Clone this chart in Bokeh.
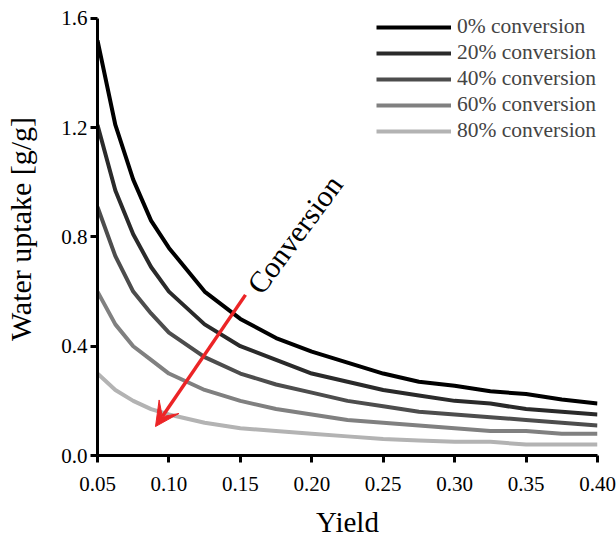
from bokeh.plotting import figure
from bokeh.models import (FixedTicker, PrintfTickFormatter, Legend, LegendItem,
                          Arrow, VeeHead, Label, Range1d)
from bokeh.embed import file_html
from bokeh.resources import INLINE

# ---- data ----
yield_x = [0.05, 0.0625, 0.075, 0.0875, 0.10, 0.125, 0.15, 0.175, 0.20,
           0.225, 0.25, 0.275, 0.30, 0.325, 0.35, 0.375, 0.40]
conv_0 = [1.52, 1.21, 1.01, 0.86, 0.76, 0.60, 0.50, 0.43, 0.38,
          0.34, 0.30, 0.27, 0.255, 0.235, 0.225, 0.205, 0.19]
conv_20 = [1.21, 0.97, 0.81, 0.69, 0.60, 0.48, 0.40, 0.35, 0.30,
           0.27, 0.24, 0.22, 0.20, 0.19, 0.17, 0.16, 0.15]
conv_40 = [0.91, 0.73, 0.60, 0.52, 0.45, 0.36, 0.30, 0.26, 0.23,
           0.20, 0.18, 0.16, 0.15, 0.14, 0.13, 0.12, 0.11]
conv_60 = [0.60, 0.48, 0.40, 0.35, 0.30, 0.24, 0.20, 0.17, 0.15,
           0.13, 0.12, 0.11, 0.10, 0.09, 0.09, 0.08, 0.08]
conv_80 = [0.30, 0.24, 0.20, 0.17, 0.15, 0.12, 0.10, 0.09, 0.08,
           0.07, 0.06, 0.055, 0.05, 0.05, 0.04, 0.04, 0.04]
series_labels = ["0% conversion", "20% conversion", "40% conversion",
                 "60% conversion", "80% conversion"]
series_colors = ["#000000", "#2a2a2a", "#4d4d4d", "#808080", "#b3b3b3"]
x_ticks = [0.05, 0.10, 0.15, 0.20, 0.25, 0.30, 0.35, 0.40]
y_ticks = [0.0, 0.4, 0.8, 1.2, 1.6]
x_title = "Yield"
y_title = "Water uptake [g/g]"
arrow_start = (0.1536, 0.588)
arrow_end = (0.0906, 0.106)
arrow_label = "Conversion"
arrow_label_pos = (0.1592, 0.606)

FONT = "Liberation Serif"

# y range runs a little past 1.6 so the legend sits inside the frame;
# the axis itself is bounded to 0..1.6
p = figure(width=616, height=540, output_backend="svg", toolbar_location=None,
           x_range=Range1d(0.05, 0.40), y_range=Range1d(0.0, 1.6584),
           min_border_left=97, min_border_right=19, min_border_top=2,
           min_border_bottom=84)
p.outline_line_color = None
p.grid.visible = False
p.background_fill_color = "white"
p.border_fill_color = "white"

items = []
for vals, lab, col in zip([conv_0, conv_20, conv_40, conv_60, conv_80],
                          series_labels, series_colors):
    r = p.line(yield_x, vals, line_color=col, line_width=4)
    items.append(LegendItem(label=lab, renderers=[r]))

for ax in (p.xaxis[0], p.yaxis[0]):
    ax.axis_line_width = 3
    ax.axis_line_color = "black"
    ax.major_tick_line_width = 3
    ax.major_tick_out = 7
    ax.major_tick_in = 0
    ax.minor_tick_line_color = None
    ax.major_label_text_font = FONT
    ax.major_label_text_font_size = "21px"
    ax.major_label_text_color = "black"
    ax.axis_label_text_font = FONT
    ax.axis_label_text_font_style = "normal"
    ax.axis_label_text_color = "black"

p.xaxis[0].ticker = FixedTicker(ticks=x_ticks)
p.xaxis[0].formatter = PrintfTickFormatter(format="%.2f")
p.xaxis[0].major_label_standoff = 14
p.xaxis[0].axis_label = x_title
p.xaxis[0].axis_label_text_font_size = "29px"
p.xaxis[0].axis_label_standoff = 12
p.yaxis[0].ticker = FixedTicker(ticks=y_ticks)
p.yaxis[0].bounds = (0.0, 1.6)
p.yaxis[0].formatter = PrintfTickFormatter(format="%.1f")
p.yaxis[0].major_label_standoff = 3
p.yaxis[0].axis_label = y_title
p.yaxis[0].axis_label_text_font_size = "30px"
p.yaxis[0].axis_label_standoff = 21

legend = Legend(items=items, location=(279, 312), border_line_color=None,
                background_fill_alpha=0, padding=0, margin=0,
                glyph_width=75, glyph_height=22, label_height=22,
                label_standoff=6, spacing=1,
                label_text_font=FONT, label_text_font_size="21.5px")
p.add_layout(legend)

p.add_layout(Arrow(end=VeeHead(size=24, fill_color="#ec2426", line_color="#ec2426"),
                   x_start=arrow_start[0], y_start=arrow_start[1],
                   x_end=arrow_end[0], y_end=arrow_end[1],
                   line_color="#ec2426", line_width=3.5))

p.add_layout(Label(x=arrow_label_pos[0], y=arrow_label_pos[1], text=arrow_label,
                   angle=53.5, angle_units="deg", text_font=FONT,
                   text_font_size="30px", text_align="left",
                   text_baseline="alphabetic", text_color="black"))

open("out.html", "w").write(file_html(p, INLINE))
